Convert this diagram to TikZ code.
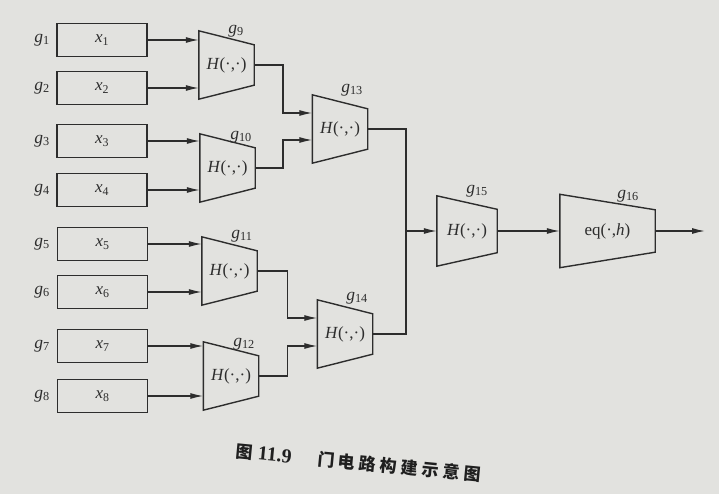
\documentclass[tikz,border=0pt]{standalone}
\usepackage{fontspec}
\setmainfont{Liberation Serif}
\newfontfamily\cjk{Noto Sans CJK SC}
\usetikzlibrary{arrows.meta}
\definecolor{paper}{RGB}{226,226,223}
\definecolor{ink}{RGB}{45,45,45}
\newcommand\gsub[2]{\textit{#1}\textsubscript{#2}}
\newcommand\Hdot{\textit{H}(·,·)}
\newcommand\mytrap[5][]{%
  \node[tnode,#1] (#2) at (#3) {#4};
  \draw[shp] (#2.north west) -- ([yshift=-#5]#2.north east) -- ([yshift=#5]#2.south east) -- (#2.south west) -- cycle;}
\tikzset{
  lbl/.style={font=\fontsize{17.5}{20}\selectfont, text=ink, inner sep=0pt},
  xbox/.style={draw=ink, line width=1.4pt, minimum width=90pt, minimum height=33pt, inner sep=0pt, font=\fontsize{17}{20}\selectfont, text=ink},
  tnode/.style={minimum width=55pt, minimum height=68pt, inner sep=0pt, font=\fontsize{17}{20}\selectfont, text=ink},
  shp/.style={draw=ink, line width=1.4pt, line join=miter},
  wire/.style={draw=ink, line width=1.3pt},
  arr/.style={wire, -{Latex[length=13pt,width=6pt]}}
}
\begin{document}
\begin{tikzpicture}[x=1pt,y=-1pt]
\fill[paper] (0,0) rectangle (719,494);
\useasboundingbox (0,0) rectangle (719,494);
% input boxes
\node[xbox] (x1) at (102,40)  {\gsub{x}{1}};
\node[xbox] (x2) at (102,88)  {\gsub{x}{2}};
\node[xbox] (x3) at (102,141) {\gsub{x}{3}};
\node[xbox] (x4) at (102,190) {\gsub{x}{4}};
\node[xbox] (x5) at (102.5,244) {\gsub{x}{5}};
\node[xbox] (x6) at (102.5,292) {\gsub{x}{6}};
\node[xbox] (x7) at (102.5,346) {\gsub{x}{7}};
\node[xbox] (x8) at (102.5,396) {\gsub{x}{8}};
% g labels of inputs
\node[lbl] (l1) at (42,40)  {\gsub{g}{1}};
\node[lbl] (l2) at (42,88)  {\gsub{g}{2}};
\node[lbl] (l3) at (42,141) {\gsub{g}{3}};
\node[lbl] (l4) at (42,190) {\gsub{g}{4}};
\node[lbl] (l5) at (42,244) {\gsub{g}{5}};
\node[lbl] (l6) at (42,292) {\gsub{g}{6}};
\node[lbl] (l7) at (42,346) {\gsub{g}{7}};
\node[lbl] (l8) at (42,396) {\gsub{g}{8}};
% gates
\mytrap{g9}{226.5,65}{\Hdot}{14pt}
\mytrap{g10}{227.5,168}{\Hdot}{14pt}
\mytrap{g11}{229.5,271}{\Hdot}{14pt}
\mytrap{g12}{231,376}{\Hdot}{14pt}
\mytrap{g13}{340,129}{\Hdot}{14pt}
\mytrap{g14}{345,334}{\Hdot}{14pt}
\mytrap[minimum width=60pt,minimum height=70pt]{g15}{467,231}{\Hdot}{13.5pt}
\mytrap[minimum width=95pt,minimum height=73pt]{g16}{607.5,231}{eq(·,\textit{h})}{15.5pt}
% gate labels
\node[lbl] (n9)  at (236,31)  {\gsub{g}{9}};
\node[lbl] (n10) at (241,137) {\gsub{g}{10}};
\node[lbl] (n11) at (242,236) {\gsub{g}{11}};
\node[lbl] (n12) at (244,344) {\gsub{g}{12}};
\node[lbl] (n13) at (352,90)  {\gsub{g}{13}};
\node[lbl] (n14) at (357,298) {\gsub{g}{14}};
\node[lbl] (n15) at (477,191) {\gsub{g}{15}};
\node[lbl] (n16) at (628,196) {\gsub{g}{16}};
% level 1 wires
\draw[arr] (x1.east) -- (x1.east -| g9.west);
\draw[arr] (x2.east) -- (x2.east -| g9.west);
\draw[arr] (x3.east) -- (x3.east -| g10.west);
\draw[arr] (x4.east) -- (x4.east -| g10.west);
\draw[arr] (x5.east) -- (x5.east -| g11.west);
\draw[arr] (x6.east) -- (x6.east -| g11.west);
\draw[arr] (x7.east) -- (x7.east -| g12.west);
\draw[arr] (x8.east) -- (x8.east -| g12.west);
% level 2 wires
\coordinate (ea) at (283,0);
\coordinate (eb) at (287.5,0);
\coordinate (g13a) at ([yshift=16pt]g13.west);
\coordinate (g13b) at ([yshift=-11pt]g13.west);
\coordinate (g14a) at ([yshift=16pt]g14.west);
\coordinate (g14b) at ([yshift=-12pt]g14.west);
\draw[arr] (g9.east)  -| (ea |- g13a) -- (g13a);
\draw[arr] (g10.east) -| (ea |- g13b) -- (g13b);
\draw[arr] (g11.east) -| (eb |- g14a) -- (g14a);
\draw[arr] (g12.east) -| (eb |- g14b) -- (g14b);
% level 3
\coordinate (jc) at (406,231);
\draw[wire] (g13.east) -| (jc) |- (g14.east);
\draw[arr] (jc) -- (g15.west);
\draw[arr] (g15.east) -- (g16.west);
\coordinate (out) at (705,231);
\draw[arr] (g16.east) -- (out);
% caption
\node[rotate=-5.5, inner sep=0pt, text=black!88] (cap) at (358.5,463)
  {{\cjk\bfseries\fontsize{17}{20}\selectfont 图}\hspace{5pt}{\bfseries\fontsize{20}{22}\selectfont 11.9}\hspace{26pt}{\cjk\bfseries\fontsize{17}{20}\selectfont 门\hspace{4pt}电\hspace{4pt}路\hspace{4pt}构\hspace{4pt}建\hspace{4pt}示\hspace{4pt}意\hspace{4pt}图}};
\end{tikzpicture}
\end{document}
